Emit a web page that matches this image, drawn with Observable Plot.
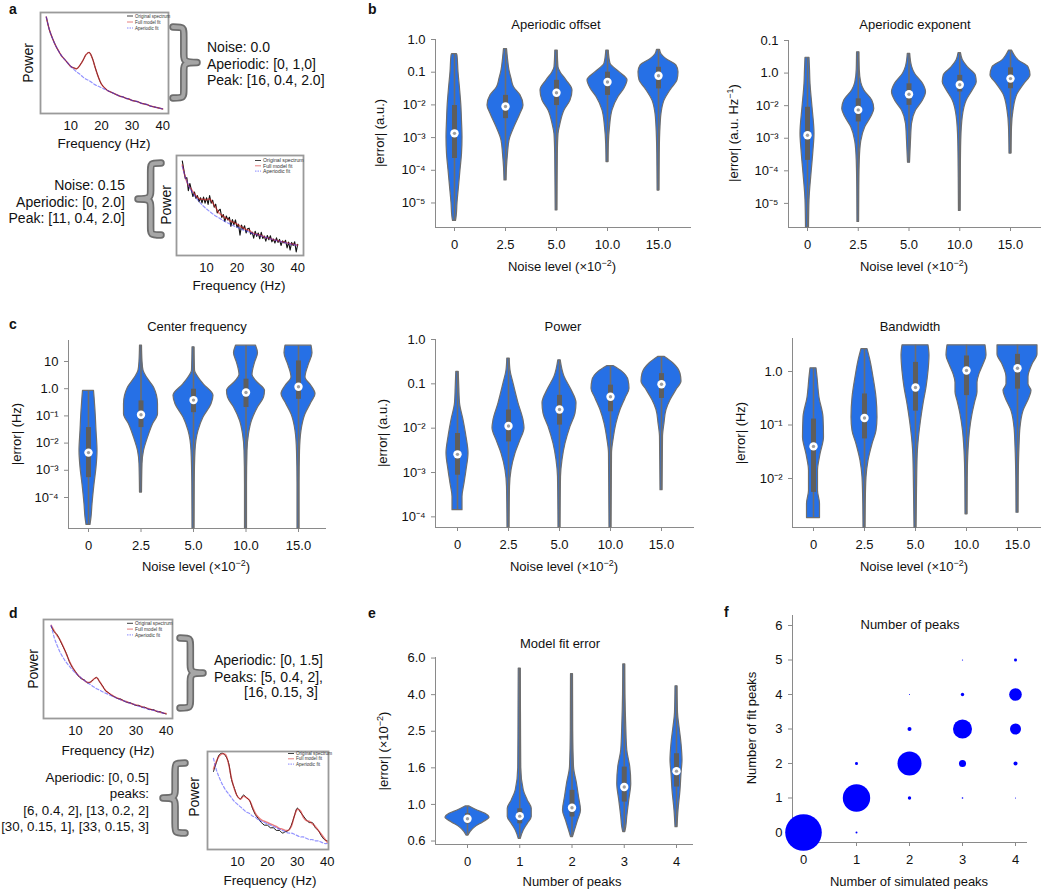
<!DOCTYPE html>
<html><head><meta charset="utf-8">
<script src="https://cdn.jsdelivr.net/npm/d3@7"></script>
<script src="https://cdn.jsdelivr.net/npm/@observablehq/plot@0.6"></script>
<style>
html,body{margin:0;padding:0;background:#fff;}
#root{position:relative;width:1050px;height:891px;overflow:hidden;font-family:"Liberation Sans",Arial,Helvetica,sans-serif;}
#root svg.pp{position:absolute;overflow:visible;}
#root svg.pp text{fill:#111;}
#overlay{position:absolute;left:0;top:0;pointer-events:none;}
</style></head><body><div id="root"></div>
<script>
// ---------------- DATA ----------------
const noiseLabels = ["0", "2.5", "5.0", "10.0", "15.0"];
const peakLabels = ["0", "1", "2", "3", "4"];
const legendLabels = ["Original spectrum", "Full model fit", "Aperiodic fit"];

// violin profiles: [log10 |error|, relative half-width]
const offsetProfiles = [
  [[-0.45,2.5],[-0.5,3],[-1,4],[-1.5,5.5],[-2,6.8],[-2.5,7.5],[-3,8],[-3.5,7.5],[-4,6],[-4.5,4.5],[-5,3],[-5.4,2.2],[-5.55,1.5]],
  [[-0.29,1.5],[-0.6,2.5],[-0.95,4],[-1.2,6],[-1.46,8.5],[-1.71,15],[-2.02,18],[-2.27,15],[-2.68,9],[-3.09,4],[-3.5,2.5],[-3.9,1.5],[-4.31,1]],
  [[-0.34,1.2],[-0.85,2],[-1.0,4],[-1.25,10],[-1.56,16],[-1.87,14],[-2.17,8],[-2.58,4],[-2.9,2],[-3.5,1.3],[-4.5,1],[-5.23,0.8]],
  [[-0.34,1.2],[-0.74,3],[-1.0,12],[-1.25,20],[-1.5,17],[-1.76,11],[-2.17,5],[-2.68,2.5],[-3.2,1.3],[-3.75,1]],
  [[-0.32,1.5],[-0.45,3],[-0.6,8],[-0.8,18],[-1.0,20],[-1.25,19],[-1.51,13],[-1.87,6],[-2.27,3],[-2.68,2],[-3.5,1.2],[-4.62,0.9]]
];
const offsetBoxHi = [-2.02, -1.71, -1.25, -1.0, -0.85];
const offsetBoxLo = [-3.64, -2.42, -2.02, -1.71, -1.51];
const offsetMedian = [-2.87, -2.05, -1.63, -1.30, -1.11];

const exponentProfiles = [
  [[-0.53,2],[-0.9,2.5],[-1.33,3],[-2.05,5],[-2.86,7],[-3.37,6],[-4.09,4],[-4.9,2],[-5.74,1.5]],
  [[-0.36,1.2],[-0.9,1.5],[-1.3,3],[-1.53,6],[-1.84,14],[-2.1,16],[-2.35,13],[-2.66,7],[-3.1,3],[-3.68,1.5],[-4.5,1],[-5.57,0.8]],
  [[-0.41,1.2],[-0.8,3],[-1.02,6],[-1.33,14],[-1.59,17],[-1.84,14],[-2.15,7],[-2.56,3],[-3.07,2],[-3.75,1]],
  [[-0.39,1.2],[-0.6,3],[-0.82,8],[-1.07,16],[-1.28,17],[-1.53,13],[-1.84,7],[-2.35,3],[-3.07,1.5],[-4.2,1],[-5.23,0.8]],
  [[-0.31,1.5],[-0.45,4],[-0.61,8],[-0.82,18],[-1.07,20],[-1.33,14],[-1.65,7],[-2.15,3],[-2.66,1.5],[-3.47,1]]
];
const exponentBoxHi = [-2.05, -1.79, -1.33, -1.07, -0.84];
const exponentBoxLo = [-3.68, -2.5, -1.99, -1.58, -1.48];
const exponentMedian = [-2.91, -2.13, -1.65, -1.36, -1.17];

const cfProfiles = [
  [[-0.08,5.5],[-0.3,6],[-0.82,7],[-1.55,8],[-2.29,9],[-2.9,8],[-3.52,6],[-4.25,4],[-4.74,3],[-5.01,2]],
  [[1.58,1],[1.0,1.5],[0.66,2.5],[0.41,6],[0.04,13],[-0.57,17],[-0.94,17],[-1.31,12],[-1.8,7],[-2.29,3],[-2.78,1.5],[-3.82,1]],
  [[1.52,1],[0.66,1.5],[0.41,5],[0.17,10],[-0.26,20],[-0.57,18],[-1.06,10],[-1.55,5],[-2.29,2],[-3.5,1.2],[-5.14,1]],
  [[1.58,10],[1.3,12],[0.95,9],[0.5,6.5],[0.25,11],[-0.08,19],[-0.33,18],[-0.69,12],[-1.18,6],[-1.67,3],[-2.29,1.5],[-3.5,1],[-5.14,1]],
  [[1.58,13],[1.3,14],[0.85,10],[0.41,7],[0.1,13],[-0.2,17],[-0.51,13],[-0.94,7],[-1.55,3],[-2.3,1.5],[-3.5,1],[-5.14,1]]
];
const cfBoxHi = [-1.43, -0.45, -0.02, 0.35, 1.02];
const cfBoxLo = [-3.27, -1.43, -0.88, -0.69, -0.39];
const cfMedian = [-2.35, -0.96, -0.42, -0.14, 0.07];

const powerProfiles = [
  [[-0.73,1.2],[-1.1,1.8],[-1.44,2.5],[-1.82,6],[-2.2,9],[-2.57,11],[-2.95,9],[-3.25,7],[-3.55,5],[-3.85,5]],
  [[-0.43,1.2],[-0.7,2],[-0.99,5],[-1.44,10],[-1.82,15],[-2.0,16],[-2.27,12],[-2.57,7],[-2.95,3],[-3.32,1.5],[-4.24,1]],
  [[-0.47,1.2],[-0.84,5],[-1.14,12],[-1.44,17],[-1.67,16],[-1.97,11],[-2.35,6],[-2.72,3],[-3.1,1.5],[-4.24,1]],
  [[-0.6,3],[-0.73,12],[-0.92,18],[-1.11,19],[-1.33,15],[-1.59,10],[-1.89,6],[-2.27,3],[-2.57,1.5],[-4.24,1]],
  [[-0.39,3],[-0.54,12],[-0.77,19],[-0.95,20],[-1.14,15],[-1.37,9],[-1.59,5],[-1.89,3],[-2.2,1.5],[-3.4,1]]
];
const powerBoxHi = [-2.12, -1.59, -1.26, -1.03, -0.77];
const powerBoxLo = [-3.06, -2.31, -1.93, -1.63, -1.33];
const powerMedian = [-2.59, -1.95, -1.58, -1.29, -1.01];

const bwProfiles = [
  [[0.06,3],[-0.11,4],[-0.49,6],[-0.86,10],[-1.23,10.5],[-1.55,7],[-1.86,4.5],[-2.23,4.5],[-2.48,6.5],[-2.74,6.5]],
  [[0.42,3],[0.2,6],[-0.11,9],[-0.49,12],[-0.86,13],[-1.11,12],[-1.36,8],[-1.67,4],[-1.98,2],[-2.5,1.2],[-2.92,1]],
  [[0.49,13],[0.3,14],[0.0,13],[-0.3,11],[-0.61,8],[-0.92,5.5],[-1.23,3.5],[-1.55,2.2],[-2.2,1.5],[-2.92,1]],
  [[0.49,19],[0.3,20],[0.13,17],[-0.05,13],[-0.21,11],[-0.39,11],[-0.55,9],[-0.8,6],[-1.11,3.5],[-1.48,2],[-2.0,1.2],[-2.67,1]],
  [[0.49,20],[0.32,20],[0.13,15],[-0.11,11],[-0.24,11],[-0.36,14],[-0.49,12],[-0.74,6],[-1.05,3],[-1.4,2],[-2.0,1.2],[-2.64,1]]
];
const bwBoxHi = [-0.89, -0.42, 0.17, 0.29, 0.32];
const bwBoxLo = [-2.26, -1.26, -0.74, -0.45, -0.33];
const bwMedian = [-1.40, -0.87, -0.30, 0.02, 0.06];

const fitErrProfiles = [
  [[-0.011,2],[-0.033,10],[-0.051,18],[-0.073,22],[-0.097,16],[-0.124,8],[-0.151,3],[-0.17,1]],
  [[0.743,1],[0.5,1.2],[0.2,1.5],[0.077,4],[0.022,8],[-0.024,12],[-0.069,12],[-0.106,8],[-0.142,4],[-0.188,1]],
  [[0.712,1],[0.4,1.2],[0.204,2],[0.113,5],[0.04,7],[-0.033,9],[-0.088,6],[-0.142,3],[-0.179,1]],
  [[0.765,1],[0.6,1.2],[0.423,2],[0.296,3],[0.204,6],[0.113,7],[0.022,5],[-0.069,3],[-0.124,2],[-0.151,1]],
  [[0.646,1],[0.5,1.5],[0.423,3],[0.332,5],[0.241,6],[0.168,5],[0.077,4],[-0.033,2],[-0.124,1]]
];
const fitErrBoxHi = [-0.051, -0.024, 0.077, 0.204, 0.277];
const fitErrBoxLo = [-0.106, -0.106, -0.069, 0.013, 0.095];
const fitErrMedian = [-0.078, -0.064, -0.018, 0.095, 0.182];

// tick values (log10) and their labels
const offsetTicks = [0, -1, -2, -3, -4, -5];
const offsetTickLabels = ["1.0", "0.1", "10⁻²", "10⁻³", "10⁻⁴", "10⁻⁵"];
const exponentTickLabels = ["0.1", "1.0", "10⁻²", "10⁻³", "10⁻⁴", "10⁻⁵"];
const cfTicks = [1, 0, -1, -2, -3, -4];
const cfTickLabels = ["10", "1.0", "10⁻¹", "10⁻²", "10⁻³", "10⁻⁴"];
const powerTicks = [0, -1, -2, -3, -4];
const powerTickLabels = ["1.0", "0.1", "10⁻²", "10⁻³", "10⁻⁴"];
const bwTicks = [0, -1, -2];
const bwTickLabels = ["1.0", "10⁻¹", "10⁻²"];
const fitErrTicks = [-0.2, 0, 0.2, 0.4, 0.6, 0.8];
const fitErrTickLabels = ["0.6", "1.0", "1.6", "2.5", "4.0", "6.0"];

// panel f: number of simulated vs fit peaks (share of simulations)
const peakSim   = [0, 1, 2, 3, 4, 4, 3, 2, 1, 2, 3, 4, 4, 3, 2, 1, 3, 4];
const peakFit   = [0, 1, 2, 3, 4, 3, 2, 3, 2, 1, 4, 2, 5, 5, 4, 0, 1, 1];
const peakShare = [1.0, 0.56, 0.43, 0.27, 0.119, 0.09, 0.037, 0.012, 0.0067, 0.0086, 0.0086, 0.012, 0.0067, 0.0011, 0.0008, 0.003, 0.002, 0.0008];
const simTicks = [0, 1, 2, 3, 4];
const fitTicks = [0, 1, 2, 3, 4, 5, 6];

// spectra (log10 power)
const freq1Hz = [2,3,4,5,6,7,8,9,10,11,12,13,14,15,16,17,18,19,20,21,22,23,24,25,26,27,28,29,30,31,32,33,34,35,36,37,38,39,40];
const freqHalfHz = [2,2.5,3,3.5,4,4.5,5,5.5,6,6.5,7,7.5,8,8.5,9,9.5,10,10.5,11,11.5,12,12.5,13,13.5,14,14.5,15,15.5,16,16.5,17,17.5,18,18.5,19,19.5,20,20.5,21,21.5,22,22.5,23,23.5,24,24.5,25,25.5,26,26.5,27,27.5,28,28.5,29,29.5,30,30.5,31,31.5,32,32.5,33,33.5,34,34.5,35,35.5,36,36.5,37,37.5,38,38.5,39,39.5,40];
const freqTicks = [10, 20, 30, 40];

const aTopOriginal = [-0.30,-0.48,-0.60,-0.70,-0.78,-0.85,-0.90,-0.95,-1.00,-1.02,-1.03,-0.98,-0.91,-0.83,-0.80,-0.88,-1.02,-1.15,-1.25,-1.30,-1.34,-1.36,-1.38,-1.40,-1.42,-1.43,-1.45,-1.46,-1.48,-1.49,-1.50,-1.52,-1.53,-1.54,-1.56,-1.57,-1.58,-1.59,-1.60];
const aTopFull     = [-0.30,-0.48,-0.60,-0.70,-0.78,-0.85,-0.90,-0.95,-1.00,-1.02,-1.03,-0.98,-0.91,-0.83,-0.80,-0.88,-1.02,-1.15,-1.25,-1.30,-1.34,-1.36,-1.38,-1.40,-1.42,-1.43,-1.45,-1.46,-1.48,-1.49,-1.50,-1.52,-1.53,-1.54,-1.56,-1.57,-1.58,-1.59,-1.60];
const aTopAperiodic= [-0.30,-0.48,-0.60,-0.70,-0.78,-0.85,-0.90,-0.95,-1.00,-1.04,-1.08,-1.11,-1.15,-1.18,-1.20,-1.23,-1.26,-1.28,-1.30,-1.32,-1.34,-1.36,-1.38,-1.40,-1.42,-1.43,-1.45,-1.46,-1.48,-1.49,-1.50,-1.52,-1.53,-1.54,-1.56,-1.57,-1.58,-1.59,-1.60];

const aBotOriginal = [-0.42,-0.70,-1.00,-0.97,-1.40,-1.16,-1.38,-1.59,-1.44,-1.65,-1.56,-1.76,-1.63,-1.80,-1.61,-1.81,-1.63,-1.85,-1.56,-1.81,-1.71,-1.94,-1.84,-2.13,-2.05,-2.01,-2.28,-2.18,-2.41,-2.23,-2.36,-2.27,-2.57,-2.35,-2.52,-2.36,-2.60,-2.50,-2.86,-2.53,-2.67,-2.55,-2.79,-2.65,-2.63,-2.83,-2.76,-2.96,-2.73,-2.90,-2.79,-2.98,-2.77,-2.97,-2.89,-3.06,-2.87,-3.01,-2.88,-3.08,-2.99,-3.12,-2.95,-3.10,-3.00,-3.20,-3.05,-3.12,-3.03,-3.28,-3.09,-3.35,-3.10,-3.20,-3.08,-3.41,-3.16];
const aBotFull     = [-0.55,-0.95,-1.22,-1.35,-1.50,-1.62,-1.68,-1.68,-1.70,-1.66,-1.80,-1.95,-2.12,-2.20,-2.28,-2.33,-2.40,-2.45,-2.50,-2.56,-2.62,-2.67,-2.70,-2.78,-2.82,-2.85,-2.87,-2.92,-2.95,-2.97,-3.01,-3.03,-3.06,-3.08,-3.10,-3.13,-3.15,-3.17,-3.19];
const aBotAperiodic= [-0.60,-0.95,-1.20,-1.40,-1.56,-1.69,-1.81,-1.91,-2.00,-2.08,-2.16,-2.23,-2.29,-2.35,-2.41,-2.46,-2.51,-2.56,-2.60,-2.64,-2.69,-2.72,-2.76,-2.80,-2.83,-2.86,-2.89,-2.92,-2.95,-2.98,-3.01,-3.04,-3.06,-3.09,-3.11,-3.14,-3.16,-3.18,-3.20];

const dTopOriginal = [-0.47,-0.59,-0.66,-0.79,-0.93,-1.07,-1.25,-1.38,-1.47,-1.57,-1.63,-1.66,-1.72,-1.70,-1.65,-1.60,-1.70,-1.79,-1.90,-1.94,-2.00,-2.03,-2.07,-2.08,-2.12,-2.15,-2.16,-2.19,-2.22,-2.22,-2.26,-2.26,-2.30,-2.31,-2.32,-2.36,-2.36,-2.39,-2.41];
const dTopFull     = [-0.45,-0.57,-0.68,-0.78,-0.92,-1.08,-1.24,-1.37,-1.48,-1.56,-1.62,-1.67,-1.71,-1.71,-1.64,-1.61,-1.69,-1.80,-1.89,-1.95,-1.99,-2.03,-2.06,-2.09,-2.12,-2.14,-2.17,-2.19,-2.21,-2.23,-2.25,-2.27,-2.29,-2.31,-2.33,-2.35,-2.37,-2.39,-2.40];
const dTopAperiodic= [-0.45,-0.72,-0.90,-1.05,-1.17,-1.27,-1.35,-1.43,-1.50,-1.56,-1.62,-1.67,-1.72,-1.76,-1.81,-1.85,-1.88,-1.92,-1.95,-1.98,-2.01,-2.04,-2.07,-2.10,-2.12,-2.15,-2.17,-2.19,-2.22,-2.24,-2.26,-2.28,-2.30,-2.32,-2.33,-2.35,-2.37,-2.39,-2.40];

const dBotOriginal = [-0.25,-0.18,-0.12,-0.11,-0.13,-0.18,-0.31,-0.38,-0.44,-0.46,-0.43,-0.45,-0.47,-0.53,-0.58,-0.61,-0.64,-0.66,-0.66,-0.68,-0.68,-0.70,-0.70,-0.72,-0.71,-0.70,-0.66,-0.59,-0.53,-0.56,-0.59,-0.62,-0.64,-0.64,-0.68,-0.70,-0.74,-0.77,-0.78];
const dBotFull     = [-0.23,-0.17,-0.13,-0.115,-0.12,-0.19,-0.30,-0.385,-0.44,-0.46,-0.44,-0.45,-0.47,-0.52,-0.57,-0.60,-0.62,-0.63,-0.64,-0.65,-0.66,-0.67,-0.685,-0.69,-0.70,-0.70,-0.67,-0.59,-0.54,-0.55,-0.60,-0.625,-0.63,-0.65,-0.67,-0.70,-0.73,-0.76,-0.79];
const dBotAperiodic= [-0.15,-0.24,-0.30,-0.35,-0.39,-0.42,-0.45,-0.48,-0.50,-0.52,-0.54,-0.56,-0.57,-0.59,-0.60,-0.62,-0.63,-0.64,-0.65,-0.66,-0.67,-0.68,-0.69,-0.70,-0.71,-0.72,-0.72,-0.73,-0.74,-0.75,-0.75,-0.76,-0.77,-0.77,-0.78,-0.78,-0.79,-0.80,-0.80];

// ---------------- DRAWING ----------------
const FONT = '"Liberation Sans", Arial, Helvetica, sans-serif';
const BLUE = "#2670e6", VGRAY = "#6e6e6e", BOXGRAY = "#5e5e5e", SPINE = "#8a8a8a";
const root = document.getElementById("root");

function addSvg(svg, left, top) {
  svg.classList.add("pp");
  svg.style.left = left + "px";
  svg.style.top = top + "px";
  root.appendChild(svg);
}

function violinPanel(c) {
  const mL = 55, mR = 8, mT = 8, mB = 34;
  const rows = c.profiles.flatMap((p, i) => p.map(([v, d]) => ({i, v, d})));
  const stats = c.profiles.map((p, i) => ({
    i, lo: d3.min(p, q => q[0]), hi: d3.max(p, q => q[0]),
    q1: c.boxLo[i], q3: c.boxHi[i], med: c.median[i]
  }));
  const xd = [(c.x0 - c.c0) / c.sp, (c.x1 - c.c0) / c.sp];
  const svg = Plot.plot({
    width: c.x1 - c.x0 + mL + mR, height: c.y1 - c.y0 + mT + mB,
    marginLeft: mL, marginRight: mR, marginTop: mT, marginBottom: mB,
    style: {fontFamily: FONT, fontSize: "13px", background: "none", color: SPINE, overflow: "visible"},
    x: {domain: xd, ticks: c.xLabels.map((_, i) => i), tickFormat: i => c.xLabels[i], tickSize: 4, tickPadding: 8, line: true, label: null},
    y: {domain: c.yDomain, ticks: c.yTicks, tickFormat: v => c.yLabels[c.yTicks.indexOf(v)], tickSize: 4, tickPadding: 6, line: true, label: null},
    marks: [
      Plot.areaX(rows, {y: "v", x1: r => r.i - r.d / c.sp, x2: r => r.i + r.d / c.sp, z: "i",
        fill: BLUE, stroke: VGRAY, strokeWidth: 1.2, curve: "monotone-y"}),
      Plot.ruleX(stats, {x: "i", y1: "lo", y2: "hi", stroke: VGRAY, strokeWidth: 1.6}),
      Plot.ruleX(stats, {x: "i", y1: "q1", y2: "q3", stroke: BOXGRAY, strokeWidth: 5}),
      Plot.dot(stats, {x: "i", y: "med", r: 4.2, fill: "white"}),
      Plot.dot(stats, {x: "i", y: "med", r: 1.7, fill: "#a0a0a0"})
    ]
  });
  addSvg(svg, c.x0 - mL, c.y0 - mT);
}

function spectrumPanel(c) {
  const mL = 6, mR = 6, mT = 6, mB = 26;
  const rows = (f, p) => f.map((x, k) => ({f: x, p: p[k]}));
  const svg = Plot.plot({
    width: c.x1 - c.x0 + mL + mR, height: c.y1 - c.y0 + mT + mB,
    marginLeft: mL, marginRight: mR, marginTop: mT, marginBottom: mB,
    style: {fontFamily: FONT, fontSize: "13px", background: "none", color: SPINE, overflow: "visible"},
    x: {domain: c.xDomain, ticks: freqTicks, tickSize: 0, tickPadding: 7, label: null},
    y: {domain: c.yDomain, axis: null},
    marks: [
      Plot.line(rows(c.origF, c.orig), {x: "f", y: "p", stroke: "#111", strokeWidth: c.noisy ? 1.1 : 1, curve: c.noisy ? "linear" : "catmull-rom"}),
      Plot.line(rows(freq1Hz, c.full), {x: "f", y: "p", stroke: "#e02a2a", strokeOpacity: 0.6, strokeWidth: 1.5, curve: "catmull-rom"}),
      Plot.line(rows(freq1Hz, c.aper), {x: "f", y: "p", stroke: "#3a3aff", strokeOpacity: 0.55, strokeWidth: 1.2, strokeDasharray: "3,2", curve: "catmull-rom"}),
      Plot.frame({stroke: "#9a9a9a", strokeWidth: 1.8})
    ]
  });
  addSvg(svg, c.x0 - mL, c.y0 - mT);
}

// panel a
spectrumPanel({x0: 40, x1: 168, y0: 12, y1: 113, xDomain: [0.1, 41.9], yDomain: [-1.665, -0.235],
  origF: freq1Hz, orig: aTopOriginal, full: aTopFull, aper: aTopAperiodic});
spectrumPanel({x0: 176, x1: 303, y0: 155, y1: 255, xDomain: [0.1, 41.9], yDomain: [-3.53, -0.24],
  origF: freqHalfHz, orig: aBotOriginal, full: aBotFull, aper: aBotAperiodic, noisy: true});
// panel d
spectrumPanel({x0: 43, x1: 172, y0: 619, y1: 718, xDomain: [-0.54, 42.1], yDomain: [-2.51, -0.32],
  origF: freq1Hz, orig: dTopOriginal, full: dTopFull, aper: dTopAperiodic});
spectrumPanel({x0: 207, x1: 328, y0: 751, y1: 849, xDomain: [0, 40.4], yDomain: [-0.846, -0.097],
  origF: freq1Hz, orig: dBotOriginal, full: dBotFull, aper: dBotAperiodic});

// panel b
violinPanel({x0: 435, x1: 690, y0: 39, y1: 227, c0: 454, sp: 51, yDomain: [-5.75, 0],
  yTicks: offsetTicks, yLabels: offsetTickLabels, xLabels: noiseLabels,
  profiles: offsetProfiles, boxLo: offsetBoxLo, boxHi: offsetBoxHi, median: offsetMedian});
violinPanel({x0: 788, x1: 1040, y0: 40, y1: 227, c0: 807, sp: 50.75, yDomain: [-5.74, 0],
  yTicks: offsetTicks, yLabels: exponentTickLabels, xLabels: noiseLabels,
  profiles: exponentProfiles, boxLo: exponentBoxLo, boxHi: exponentBoxHi, median: exponentMedian});
// panel c
violinPanel({x0: 68, x1: 325, y0: 340, y1: 528, c0: 88, sp: 52.5, yDomain: [-5.14, 1.772],
  yTicks: cfTicks, yLabels: cfTickLabels, xLabels: noiseLabels,
  profiles: cfProfiles, boxLo: cfBoxLo, boxHi: cfBoxHi, median: cfMedian});
violinPanel({x0: 435, x1: 693, y0: 339, y1: 527, c0: 457, sp: 51, yDomain: [-4.24, 0],
  yTicks: powerTicks, yLabels: powerTickLabels, xLabels: noiseLabels,
  profiles: powerProfiles, boxLo: powerBoxLo, boxHi: powerBoxHi, median: powerMedian});
violinPanel({x0: 792, x1: 1040, y0: 338, y1: 527, c0: 813, sp: 51, yDomain: [-2.916, 0.617],
  yTicks: bwTicks, yLabels: bwTickLabels, xLabels: noiseLabels,
  profiles: bwProfiles, boxLo: bwBoxLo, boxHi: bwBoxHi, median: bwMedian});
// panel e
violinPanel({x0: 435, x1: 692, y0: 657, y1: 844, c0: 467, sp: 52.25, yDomain: [-0.219, 0.803],
  yTicks: fitErrTicks, yLabels: fitErrTickLabels, xLabels: peakLabels,
  profiles: fitErrProfiles, boxLo: fitErrBoxLo, boxHi: fitErrBoxHi, median: fitErrMedian});

// panel f
(function () {
  const x0 = 792, x1 = 1026, y0 = 615, y1 = 842, c0 = 803, sp = 53;
  const mL = 40, mR = 8, mT = 8, mB = 34;
  const bubbles = peakSim.map((s, k) => ({sim: s, fit: peakFit[k], share: peakShare[k]}));
  const svg = Plot.plot({
    width: x1 - x0 + mL + mR, height: y1 - y0 + mT + mB,
    marginLeft: mL, marginRight: mR, marginTop: mT, marginBottom: mB,
    style: {fontFamily: FONT, fontSize: "13px", background: "none", color: SPINE, overflow: "visible"},
    x: {domain: [(x0 - c0) / sp, (x1 - c0) / sp], ticks: simTicks, tickFormat: d => String(d), tickSize: 4, tickPadding: 8, line: true, label: null},
    y: {domain: [-0.29, 6.29], ticks: fitTicks, tickFormat: d => String(d), tickSize: 4, tickPadding: 6, line: true, label: null},
    r: {type: "sqrt", domain: [0, 1], range: [0, 18.3]},
    marks: [Plot.dot(bubbles, {x: "sim", y: "fit", r: "share", fill: "#0000ff"})]
  });
  addSvg(svg, x0 - mL, y0 - mT);
})();

// ---------------- OVERLAY TEXT ----------------
const ov = [];
function txt(x, y, s, o = {}) {
  ov.push(`<text x="${x}" y="${y}" font-size="${o.size || 13}"` +
    (o.anchor ? ` text-anchor="${o.anchor}"` : "") +
    (o.bold ? ` font-weight="bold"` : "") +
    (o.rot ? ` transform="rotate(-90 ${x} ${y})" dy="0.35em"` : "") +
    `>${s}</text>`);
}
const SUP = (s) => `<tspan dy="-5" font-size="9">${s}</tspan><tspan dy="5">`;
function brace(x, y, w, h, dir) {
  const a = dir > 0 ? x : x + w, b = dir > 0 ? x + w : x, m = a + (b - a) * 0.45;
  const d = `M${a},${y} C${m},${y} ${m},${y} ${m},${y + h * 0.14} L${m},${y + h * 0.38} C${m},${y + h * 0.47} ${m},${y + h * 0.5} ${b},${y + h * 0.5} C${m},${y + h * 0.5} ${m},${y + h * 0.53} ${m},${y + h * 0.62} L${m},${y + h * 0.86} C${m},${y + h} ${m},${y + h} ${a},${y + h}`;
  ov.push(`<path d="${d}" fill="none" stroke="#6d6d6d" stroke-width="7.5" stroke-linejoin="round" stroke-linecap="round"/>`);
  ov.push(`<path d="${d}" fill="none" stroke="#a6a6a6" stroke-width="4" stroke-linejoin="round" stroke-linecap="round"/>`);
}
function legend(x1, y0, dy0, step, tOff, size) {
  const cols = ["#111", "#e06060", "#6a6aff"];
  legendLabels.forEach((s, k) => {
    const y = y0 + dy0 + k * step;
    ov.push(`<line x1="${x1 - tOff - 8}" x2="${x1 - tOff - 2}" y1="${y}" y2="${y}" stroke="${cols[k]}" stroke-width="0.8"${k === 2 ? ' stroke-dasharray="1.5,1"' : ""}/>`);
    ov.push(`<text x="${x1 - tOff}" y="${y + size * 0.35}" font-size="${size}" fill="#333">${s}</text>`);
  });
}

// panel letters
txt(9, 14, "a", {size: 14, bold: true});
txt(368, 14, "b", {size: 14, bold: true});
txt(9, 329, "c", {size: 14, bold: true});
txt(9, 618, "d", {size: 14, bold: true});
txt(368, 618, "e", {size: 14, bold: true});
txt(724, 617, "f", {size: 14, bold: true});

// panel a annotations
txt(207, 52, "Noise: 0.0", {size: 14});
txt(207, 68.5, "Aperiodic: [0, 1,0]", {size: 14});
txt(207, 85, "Peak: [16, 0.4, 2.0]", {size: 14});
txt(125, 190, "Noise: 0.15", {size: 14, anchor: "end"});
txt(125, 206.5, "Aperiodic: [0, 2.0]", {size: 14, anchor: "end"});
txt(125, 223, "Peak: [11, 0.4, 2.0]", {size: 14, anchor: "end"});
brace(173, 27, 24, 71, 1);
brace(138, 163, 23, 72, -1);
txt(28, 63, "Power", {size: 14, anchor: "middle", rot: true});
txt(104, 148, "Frequency (Hz)", {size: 13.5, anchor: "middle"});
txt(166, 205, "Power", {size: 14, anchor: "middle", rot: true});
txt(239, 290, "Frequency (Hz)", {size: 13.5, anchor: "middle"});
legend(168, 12, 4, 6, 33, 4.5);
legend(303, 155, 5.5, 5.3, 40, 5.2);

// panel d annotations
txt(214, 665, "Aperiodic: [0, 1.5]", {size: 14});
txt(214, 681.5, "Peaks: [5, 0.4, 2],", {size: 14});
txt(318, 697, "[16, 0.15, 3]", {size: 14, anchor: "end"});
txt(149, 782, "Aperiodic: [0, 0.5]", {size: 13.3, anchor: "end"});
txt(149, 798, "peaks:", {size: 13.3, anchor: "end"});
txt(149, 814.5, "[6, 0.4, 2], [13, 0.2, 2]", {size: 13.3, anchor: "end"});
txt(149, 830.5, "[30, 0.15, 1], [33, 0.15, 3]", {size: 13.3, anchor: "end"});
brace(180, 638, 23, 70, 1);
brace(163, 763, 22, 70, -1);
txt(33, 669, "Power", {size: 14, anchor: "middle", rot: true});
txt(108, 755, "Frequency (Hz)", {size: 13.5, anchor: "middle"});
txt(194, 797, "Power", {size: 14, anchor: "middle", rot: true});
txt(270, 885, "Frequency (Hz)", {size: 13.5, anchor: "middle"});
legend(172, 619, 4.3, 5.8, 37, 4.8);
legend(328, 751, 2.5, 5.3, 32, 4.6);

// titles
txt(556, 29, "Aperiodic offset", {anchor: "middle"});
txt(915, 29, "Aperiodic exponent", {anchor: "middle"});
txt(197, 331, "Center frequency", {anchor: "middle"});
txt(563, 331, "Power", {anchor: "middle"});
txt(910, 331, "Bandwidth", {anchor: "middle"});
txt(560, 648, "Model fit error", {anchor: "middle"});
txt(910, 629, "Number of peaks", {anchor: "middle"});

// x labels
const noiseLab = "Noise level (×10" + SUP("−2") + ")</tspan>";
txt(562, 271, noiseLab, {anchor: "middle"});
txt(914, 271, noiseLab, {anchor: "middle"});
txt(196, 571, noiseLab, {anchor: "middle"});
txt(564, 571, noiseLab, {anchor: "middle"});
txt(914, 571, noiseLab, {anchor: "middle"});
txt(572, 886, "Number of peaks", {anchor: "middle"});
txt(909, 886, "Number of simulated peaks", {anchor: "middle"});

// y labels
txt(379, 133, "|error| (a.u.)", {anchor: "middle", rot: true});
txt(733, 133, "|error| (a.u. Hz" + SUP("−1") + ")</tspan>", {anchor: "middle", rot: true});
txt(16, 434, "|error| (Hz)", {anchor: "middle", rot: true});
txt(382, 433, "|error| (a.u.)", {anchor: "middle", rot: true});
txt(740, 433, "|error| (Hz)", {anchor: "middle", rot: true});
txt(383, 751, "|error| (×10" + SUP("−2") + ")</tspan>", {anchor: "middle", rot: true});
txt(751, 728, "Number of fit peaks", {anchor: "middle", rot: true});

const ovDiv = document.createElement("div");
ovDiv.innerHTML = `<svg id="overlay" width="1050" height="891" xmlns="http://www.w3.org/2000/svg" font-family='${FONT}' fill="#111">${ov.join("")}</svg>`;
root.appendChild(ovDiv.firstChild);
</script></body></html>
